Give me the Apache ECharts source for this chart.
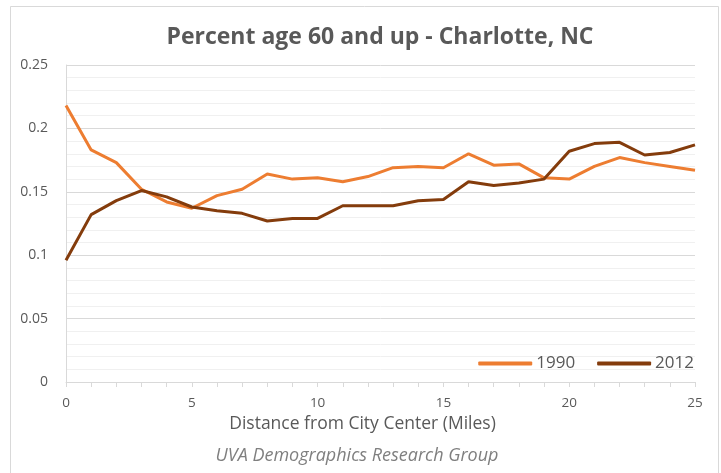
<!DOCTYPE html>
<html>
<head>
<meta charset="utf-8">
<script src="https://cdn.jsdelivr.net/npm/echarts@6/dist/echarts.min.js"></script>
<style>
  html, body { margin: 0; padding: 0; background: #fff; }
  #chart { width: 721px; height: 473px; }
</style>
</head>
<body>
<div id="chart"></div>
<script>
// distance from city center, miles
const miles = [0, 1, 2, 3, 4, 5, 6, 7, 8, 9, 10, 11, 12, 13, 14, 15, 16, 17, 18, 19, 20, 21, 22, 23, 24, 25]
const share1990 = [0.218, 0.183, 0.173, 0.152, 0.142, 0.137, 0.147, 0.152, 0.164, 0.160, 0.161, 0.158, 0.162, 0.169, 0.170, 0.169, 0.180, 0.171, 0.172, 0.161, 0.160, 0.170, 0.177, 0.173, 0.170, 0.167]
const share2012 = [0.096, 0.132, 0.143, 0.151, 0.146, 0.138, 0.135, 0.133, 0.127, 0.129, 0.129, 0.139, 0.139, 0.139, 0.143, 0.144, 0.158, 0.155, 0.157, 0.160, 0.182, 0.188, 0.189, 0.179, 0.181, 0.187]
const seriesNames = ['1990', '2012']

const font = 'Open Sans'
const pairs = arr => miles.map((m, i) => [m, arr[i]])

const myChart = echarts.init(document.getElementById('chart'))
const option = {
  backgroundColor: '#fff',
  animation: false,
  textStyle: { fontFamily: font },
  title: {
    text: 'Percent age 60 and up - Charlotte, NC',
    left: 375,
    top: 21,
    textAlign: 'center',
    textStyle: { fontSize: 23, fontWeight: 'bold', color: '#595959', fontFamily: font }
  },
  legend: {
    data: seriesNames,
    right: 22,
    top: 350,
    itemWidth: 54,
    itemHeight: 4,
    itemGap: 22,
    icon: 'roundRect',
    textStyle: { fontSize: 17, color: '#595959', fontFamily: font, padding: [0, 0, 0, -1] }
  },
  grid: { left: 66, right: 26, top: 65, bottom: 91 },
  xAxis: {
    type: 'value',
    min: 0,
    max: 25,
    interval: 5,
    name: 'Distance from City Center (Miles)',
    nameLocation: 'middle',
    nameGap: 33,
    nameTextStyle: { fontSize: 17.5, color: '#595959', padding: [0, 36, 0, 0] },
    axisLine: { show: true, lineStyle: { color: '#d9d9d9', width: 1 } },
    axisTick: { show: true, length: 5, lineStyle: { color: '#d9d9d9' } },
    minorTick: { show: true, splitNumber: 5, length: 5, lineStyle: { color: '#d9d9d9' } },
    axisLabel: { fontSize: 13.5, color: '#595959', margin: 14 },
    splitLine: { show: false }
  },
  yAxis: {
    type: 'value',
    min: 0,
    max: 0.25,
    interval: 0.05,
    axisLine: { show: true, lineStyle: { color: '#d9d9d9', width: 1 } },
    axisTick: { show: false },
    axisLabel: { fontSize: 14, color: '#595959', margin: 18 },
    splitLine: { lineStyle: { color: '#d9d9d9', width: 1 } },
    minorTick: { show: false, splitNumber: 5 },
    minorSplitLine: { show: true, lineStyle: { color: '#f0f0f0', width: 1 } }
  },
  graphic: [
    {
      type: 'rect',
      shape: { x: 10.5, y: 6.5, width: 708, height: 480 },
      style: { fill: null, stroke: '#d9d9d9', lineWidth: 1 },
      silent: true
    },
    {
      type: 'text',
      x: 357,
      y: 447,
      style: {
        text: 'UVA Demographics Research Group',
        font: 'italic 18px "Open Sans"',
        fill: '#7f7f7f',
        align: 'center',
        verticalAlign: 'top'
      }
    }
  ],
  series: [
    {
      name: seriesNames[0],
      type: 'line',
      data: pairs(share1990),
      showSymbol: false,
      symbol: 'none',
      lineStyle: { width: 3, color: '#ed7d31' },
      itemStyle: { color: '#ed7d31' }
    },
    {
      name: seriesNames[1],
      type: 'line',
      data: pairs(share2012),
      showSymbol: false,
      symbol: 'none',
      lineStyle: { width: 3, color: '#843c0c' },
      itemStyle: { color: '#843c0c' }
    }
  ]
}
option && myChart.setOption(option)
</script>
</body>
</html>
